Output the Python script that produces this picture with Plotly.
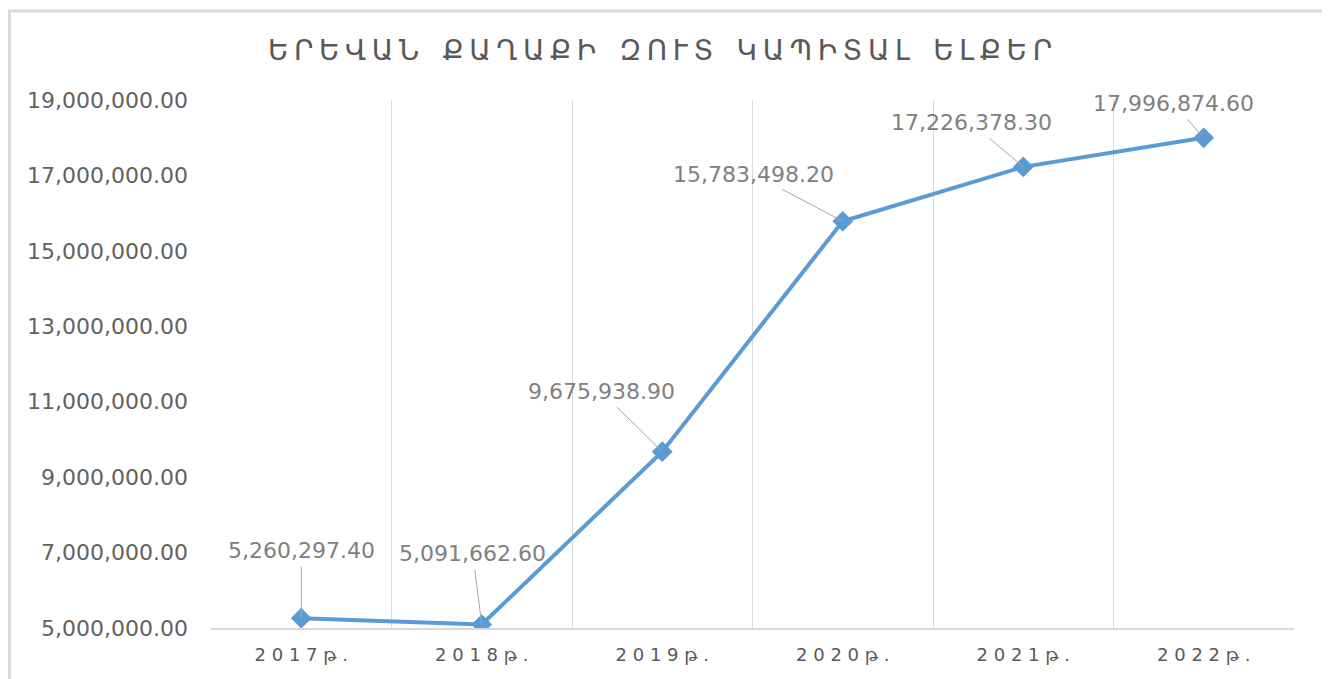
import plotly.graph_objects as go

years = ["2017թ.", "2018թ.", "2019թ.", "2020թ.", "2021թ.", "2022թ."]
values = [5260297.40, 5091662.60, 9675938.90, 15783498.20, 17226378.30, 17996874.60]
label_texts = ["5,260,297.40", "5,091,662.60", "9,675,938.90", "15,783,498.20", "17,226,378.30", "17,996,874.60"]
y_ticks = [5000000, 7000000, 9000000, 11000000, 13000000, 15000000, 17000000, 19000000]
title_text = "ԵՐԵՎԱՆ ՔԱՂԱՔԻ ԶՈՒՏ ԿԱՊԻՏԱԼ ԵԼՔԵՐ"

# label offsets in pixels (style/position, not data)
offsets = [(0, -68), (-9, -71), (-61, -60), (-89, -47), (-52, -44), (-30, -34)]

NB = "\u00a0"
HAIR = "\u200a"

def spaced(s, gap, word_gap):
    out = []
    for ch in s:
        if ch == " ":
            out.append(word_gap)
        else:
            out.append(ch + gap)
    return "".join(out)

tick_labels = [spaced(y, NB, NB).rstrip(NB) for y in years]
title_spaced = spaced(title_text, HAIR + HAIR, NB + NB)

# figure is offset by the page's 8px body margin
L, R, T, B = 203, 44, 92, 59
PW, PH = 1330 - L - R, 679 - T - B

fig = go.Figure()
fig.add_trace(go.Scatter(
    x=years, y=values, mode="lines+markers",
    line=dict(color="#5B9BD5", width=4),
    marker=dict(symbol="diamond", size=16, color="#5B9BD5"),
    hoverinfo="skip", showlegend=False,
))

for yr, v, t, (ax, ay) in zip(years, values, label_texts, offsets):
    fig.add_annotation(
        x=yr, y=v, text=t, ax=ax, ay=ay,
        showarrow=True, arrowhead=0, arrowwidth=1, arrowcolor="#A6A6A6",
        standoff=0, startstandoff=2,
        font=dict(family="DejaVu Sans", size=22, color="#808080"),
    )

# outer chart border
fig.add_shape(type="rect", xref="paper", yref="paper",
              x0=(1.5 - L) / PW, x1=(1318 - L) / PW,
              y0=-0.3, y1=(T + PH - 3) / PH,
              line=dict(color="#D9D9D9", width=3), layer="below")

fig.update_layout(
    width=1330, height=679,
    margin=dict(l=L, r=R, t=T, b=B),
    paper_bgcolor="white", plot_bgcolor="white",
    title=dict(text=title_spaced, x=652 / 1330, xanchor="center",
               y=1 - 42 / 679, yanchor="middle",
               font=dict(family="DejaVu Sans", size=28, color="#595959")),
    xaxis=dict(
        type="category", range=[-0.5, 5.5],
        tickmode="array", tickvals=years, ticktext=tick_labels,
        tickson="boundaries", ticks="", showgrid=True, gridcolor="#D9D9D9", gridwidth=1,
        showline=True, linecolor="#D9D9D9", linewidth=1.5,
        tickfont=dict(family="DejaVu Sans", size=18, color="#595959"),
        ticklabelstandoff=10,
    ),
    yaxis=dict(
        range=[5000000, 19000000], tickvals=y_ticks, tickformat=",.2f",
        showgrid=False, zeroline=False, showline=False, ticks="",
        tickfont=dict(family="DejaVu Sans", size=22, color="#626262"),
        ticklabelstandoff=22,
    ),
)

fig.write_html("out.html")
